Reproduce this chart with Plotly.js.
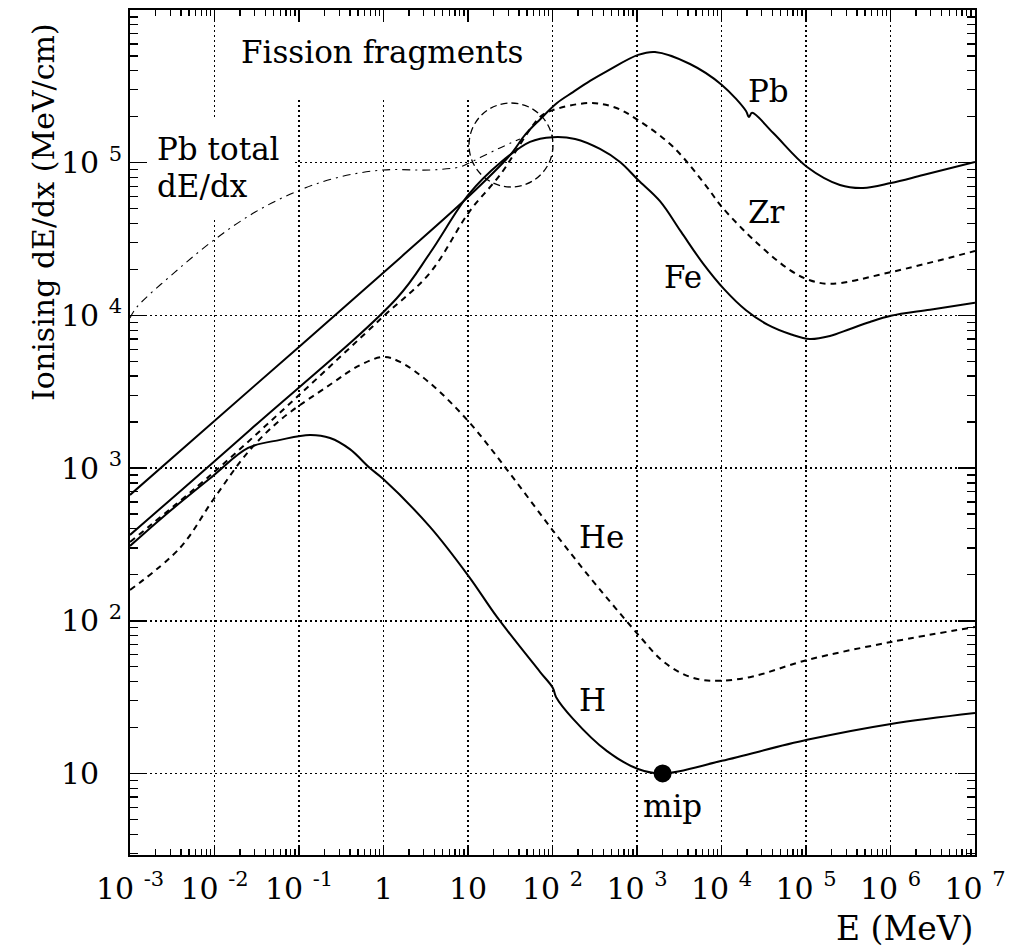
<!DOCTYPE html>
<html>
<head>
<meta charset="utf-8">
<script src="https://cdn.plot.ly/plotly-3.0.1.min.js"></script>
<style>
  html, body { margin: 0; padding: 0; background: #fff; }
  #chart { width: 1009px; height: 949px; }
</style>
</head>
<body>
<div id="chart"></div>
<script>
// ---- Data (E in MeV, ionising dE/dx in MeV/cm) ----
const E_Pb = [0.001, 0.103, 1.57, 10.3, 31.4, 47.3, 71.1, 113, 175, 278, 442, 1030, 1630, 4240, 10100, 19500, 21100, 23000, 40700, 103000, 252000, 473000, 1010000, 2430000, 10000000];
const S_Pb = [667, 6310, 23800, 60500, 112000, 152000, 192000, 246000, 290000, 343000, 398000, 508000, 531000, 443000, 323000, 218000, 199000, 212000, 157000, 93800, 71500, 68300, 73600, 83000, 101000];

const E_Fe = [0.001, 0.0263, 1.445, 3.55, 10.3, 23.9, 54.2, 101, 185, 365, 630, 1030, 1870, 3330, 6000, 10800, 19500, 35000, 67000, 111000, 192000, 332000, 571000, 1010000, 2930000, 10000000];
const S_Fe = [365, 1778, 13000, 25600, 62400, 99500, 137000, 147000, 143000, 123000, 101000, 77100, 56000, 35200, 22000, 14800, 10800, 8700, 7500, 7000, 7330, 8150, 9060, 9930, 10900, 12100];

const E_Zr = [0.001, 0.0096, 0.0946, 0.986, 3.55, 10.3, 23.9, 71.1, 101, 278, 550, 1030, 2670, 6730, 10100, 26300, 64700, 111000, 196000, 1010000, 10000000];
const S_Zr = [328, 929, 2920, 9790, 19000, 47500, 83000, 199000, 221000, 246000, 230000, 190000, 127000, 69300, 51300, 29800, 19800, 17000, 16100, 19200, 26400];

const E_He = [0.001, 0.0039, 0.0096, 0.025, 0.06, 0.23, 0.53, 1.0, 1.57, 3.55, 10.3, 31.4, 101, 278, 550, 1100, 1900, 3300, 5600, 9700, 22800, 103000, 1010000, 10000000];
const S_He = [159, 300, 618, 1274, 2064, 3500, 4730, 5340, 4960, 3600, 2000, 920, 390, 192, 122, 78, 56, 45.5, 41.2, 40.5, 43, 55.3, 72.6, 91];

const E_H = [0.001, 0.00246, 0.0096, 0.025, 0.06, 0.135, 0.233, 0.40, 0.69, 0.986, 3.55, 10.3, 22, 71.1, 101, 110, 175, 442, 1030, 2010, 10100, 103000, 1010000, 10000000];
const S_H = [309, 479, 888, 1355, 1530, 1648, 1574, 1330, 1000, 850, 412, 194, 106, 46.3, 36.3, 31.7, 22.8, 14.0, 10.7, 10.0, 12.1, 16.6, 21.1, 24.9];

const E_PbTotal = [0.001, 0.0012, 0.0034, 0.0099, 0.0303, 0.103, 0.305, 0.986, 3.55, 8.03, 10.3, 13.9, 23.9, 41.2];
const S_PbTotal = [9600, 11300, 19200, 31200, 47500, 66300, 80700, 89600, 89600, 93800, 99600, 108000, 125000, 143000];

const E_mip = [2010];
const S_mip = [10];

// tick labels
const xTickVals = [1e-3, 1e-2, 1e-1, 1, 10, 1e2, 1e3, 1e4, 1e5, 1e6, 1e7];
const xTickText = ['10 <sup>-3</sup>', '10 <sup>-2</sup>', '10 <sup>-1</sup>', '1', '10', '10 <sup>2</sup>', '10 <sup>3</sup>', '10 <sup>4</sup>', '10 <sup>5</sup>', '10 <sup>6</sup>', '10 <sup>7</sup>'];
const yTickVals = [10, 1e2, 1e3, 1e4, 1e5];
const yTickText = ['10 <sup>\u2007</sup>', '10 <sup>2</sup>', '10 <sup>3</sup>', '10 <sup>4</sup>', '10 <sup>5</sup>'];

// ---- helpers ----
function minorVals(k0, k1) {
  const v = [];
  for (let k = k0; k <= k1; k++) for (let m = 2; m <= 9; m++) v.push(m * Math.pow(10, k));
  return v;
}
const FONT = 'DejaVu Serif';
const W = 1009, H = 949, L = 130, R = 34, T = 10, B = 94;
const PW = W - L - R, PH = H - T - B;
const px = x => (x - L) / PW;       // pixel -> paper (decorations only)
const py = y => (H - B - y) / PH;

function curve(E, S, dash, width) {
  return {
    x: E, y: S, type: 'scatter', mode: 'lines',
    line: { color: 'black', width: width || 2, dash: dash || 'solid', shape: 'spline', smoothing: 1.0 },
    hoverinfo: 'skip', showlegend: false
  };
}

const traces = [
  curve(E_PbTotal, S_PbTotal, '8px,5px,2px,5px', 1.1),
  curve(E_Pb, S_Pb),
  curve(E_Fe, S_Fe),
  curve(E_Zr, S_Zr, '6px,5px'),
  curve(E_He, S_He, '6px,5px'),
  curve(E_H, S_H),
  { x: E_mip, y: S_mip, type: 'scatter', mode: 'markers',
    marker: { color: 'black', size: 18 }, hoverinfo: 'skip', showlegend: false }
];

const LABEL_SIZE = 31;
function lab(text, cx, cy) {
  return { text: text, xref: 'paper', yref: 'paper', x: px(cx), y: py(cy),
    xanchor: 'center', yanchor: 'middle', showarrow: false, borderpad: 0,
    font: { family: FONT, size: LABEL_SIZE, color: 'black' } };
}
function labL(text, lx, cy) {
  const a = lab(text, lx, cy); a.xanchor = 'left'; return a;
}

const axisCommon = {
  type: 'log', tickmode: 'array',
  ticks: 'inside', tickwidth: 1.5, tickcolor: 'black',
  showline: true, linewidth: 2, linecolor: 'black', mirror: 'allticks',
  showgrid: true, gridcolor: 'black', gridwidth: 1.6, griddash: '2px,3px',
  zeroline: false, tickfont: { family: FONT, size: 30, color: 'black' },
  fixedrange: true
};

const layout = {
  width: W, height: H,
  margin: { l: L, r: R, t: T, b: B, pad: 0 },
  paper_bgcolor: 'white', plot_bgcolor: 'white',
  font: { family: FONT, color: 'black' },
  showlegend: false,
  xaxis: Object.assign({}, axisCommon, {
    range: [-3, 7], tickvals: xTickVals, ticktext: xTickText, ticklen: 10, ticklabelstandoff: 6,
    minor: { tickmode: 'array', tickvals: minorVals(-3, 6), ticks: 'inside', ticklen: 6, tickwidth: 1.3, tickcolor: 'black', showgrid: false }
  }),
  yaxis: Object.assign({}, axisCommon, {
    range: [0.466, 6.0], tickvals: yTickVals, ticktext: yTickText, ticklen: 17,
    minor: { tickmode: 'array', tickvals: minorVals(0, 5), ticks: 'inside', ticklen: 8, tickwidth: 1.3, tickcolor: 'black', showgrid: false }
  }),
  shapes: [
    { type: 'rect', xref: 'paper', yref: 'paper', x0: px(232), x1: px(532), y0: py(100), y1: py(22),
      fillcolor: 'white', line: { width: 0 }, layer: 'above' },
    { type: 'rect', xref: 'paper', yref: 'paper', x0: px(149), x1: px(292), y0: py(167), y1: py(117),
      fillcolor: 'white', line: { width: 0 }, layer: 'above' },
    { type: 'rect', xref: 'paper', yref: 'paper', x0: px(149), x1: px(250), y0: py(217), y1: py(167),
      fillcolor: 'white', line: { width: 0 }, layer: 'above' },
    { type: 'circle', xref: 'paper', yref: 'paper', x0: px(469), x1: px(553), y0: py(187), y1: py(103),
      line: { color: 'black', width: 1.3, dash: '7px,4px' }, fillcolor: 'rgba(0,0,0,0)', layer: 'above' }
  ],
  annotations: [
    lab('Fission fragments', 382, 52),
    labL('Pb total', 156, 149),
    labL('dE/dx', 156, 186),
    lab('Pb', 768, 91),
    lab('Zr', 766.5, 212),
    lab('Fe', 682.5, 277),
    lab('He', 601.5, 537),
    lab('H', 592.5, 700),
    lab('mip', 672.5, 806),
    { text: 'Ionising dE/dx (MeV/cm)', xref: 'paper', yref: 'paper', x: px(43), y: py(212),
      xanchor: 'center', yanchor: 'middle', textangle: -90, showarrow: false,
      font: { family: FONT, size: 30, color: 'black' } },
    { text: 'E (MeV)', xref: 'paper', yref: 'paper', x: px(904), y: py(928),
      xanchor: 'center', yanchor: 'middle', showarrow: false,
      font: { family: FONT, size: 33, color: 'black' } }
  ]
};

Plotly.newPlot('chart', traces, layout, { staticPlot: true, displayModeBar: false });
</script>
</body>
</html>
